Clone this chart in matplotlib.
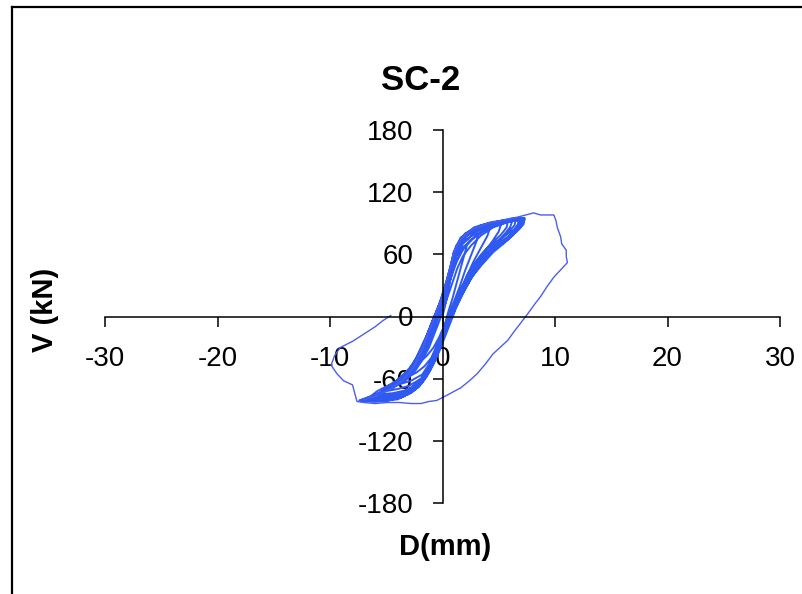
import matplotlib
matplotlib.use("Agg")
import matplotlib.pyplot as plt
from matplotlib.lines import Line2D

plt.rcParams["font.family"] = ["Liberation Sans", "DejaVu Sans"]
plt.rcParams["axes.unicode_minus"] = False

# axis ticks
x_ticks = [-30, -20, -10, 0, 10, 20, 30]
y_ticks = [-180, -120, -60, 0, 60, 120, 180]

# hysteresis record, (D mm, V kN)
cycle_1 = [(0.0, 0), (0.3, 14), (0.6, 30), (0.9, 46), (1.2, 58), (1.7, 66), (2.2, 70),
           (2.0, 62), (1.7, 50), (1.3, 34), (0.9, 18), (0.5, 4), (0.2, -8), (-0.3, -20),
           (-0.8, -30), (-1.4, -38), (-2.0, -44)]
cycle_2 = [(-1.6, -36), (-1.2, -26), (-0.8, -14), (-0.4, -2), (0.2, 14), (0.6, 32), (0.9, 50),
           (1.3, 64), (1.9, 73), (2.6, 78), (3.2, 80),
           (3.0, 72), (2.5, 58), (2.0, 44), (1.5, 28), (1.0, 14), (0.5, 0), (0.0, -14),
           (-0.5, -28), (-1.0, -40), (-1.6, -48), (-2.3, -54), (-3.0, -58)]
cycle_3 = [(-2.6, -52), (-2.0, -40), (-1.5, -28), (-1.0, -14), (-0.5, 0), (0.1, 18), (0.5, 36),
           (0.8, 52), (1.2, 66), (1.9, 76), (3.0, 83), (4.2, 85),
           (4.0, 78), (3.4, 66), (2.8, 54), (2.2, 40), (1.6, 24), (1.0, 8), (0.4, -6),
           (-0.2, -20), (-0.7, -34), (-1.2, -46), (-1.8, -56), (-2.8, -62), (-4.0, -66)]
cycle_4 = [(-3.4, -60), (-2.6, -48), (-2.0, -36), (-1.4, -22), (-0.8, -6), (-0.2, 10), (0.3, 28),
           (0.7, 46), (1.0, 62), (1.6, 74), (2.6, 83), (3.8, 87), (5.2, 89),
           (5.0, 82), (4.4, 72), (3.7, 62), (3.0, 50), (2.3, 36), (1.6, 20), (1.0, 4),
           (0.4, -10), (-0.2, -24), (-0.7, -38), (-1.2, -50), (-1.9, -60), (-3.0, -67),
           (-4.0, -70), (-5.0, -72)]
cycle_5 = [(-4.4, -66), (-3.3, -56), (-2.6, -46), (-2.0, -32), (-1.4, -18), (-0.8, -2), (-0.1, 16),
           (0.4, 34), (0.8, 50), (1.1, 64), (1.8, 77), (3.0, 86), (4.5, 90), (6.2, 92),
           (6.0, 86), (5.4, 78), (4.6, 68), (3.8, 58), (3.0, 46), (2.2, 30), (1.4, 14),
           (0.7, 0), (0.1, -16), (-0.4, -30), (-1.0, -46), (-1.6, -58), (-2.4, -68),
           (-3.5, -74), (-4.8, -76), (-6.0, -76)]
cycle_6 = [(-4.4, -69), (-3.2, -61), (-2.4, -52), (-1.8, -42), (-1.2, -30), (-0.7, -16), (-0.2, -2),
           (0.3, 14), (0.8, 30), (1.3, 46), (1.8, 58), (2.5, 68), (3.4, 78), (4.5, 86), (5.8, 91),
           (5.7, 86), (5.2, 79), (4.4, 71), (3.6, 62), (2.9, 52), (2.2, 40), (1.6, 26),
           (1.0, 12), (0.5, -2), (0.0, -16), (-0.5, -30), (-1.0, -44), (-1.5, -56),
           (-2.2, -65), (-3.2, -71), (-4.4, -74), (-5.6, -75)]
cycle_7 = [(-5.2, -70), (-3.8, -60), (-2.8, -49), (-2.1, -36), (-1.5, -22), (-0.9, -4), (-0.2, 14),
           (0.3, 32), (0.7, 48), (1.0, 62), (1.6, 76), (2.8, 86), (4.3, 91), (5.6, 93), (6.8, 94),
           (6.7, 89), (6.2, 81), (5.4, 72), (4.4, 62), (3.4, 50), (2.5, 36), (1.6, 20),
           (0.9, 4), (0.2, -14), (-0.4, -30), (-0.9, -46), (-1.5, -58), (-2.2, -68),
           (-3.2, -74), (-4.6, -78), (-6.8, -79)]
cycle_8 = [(-5.0, -72), (-3.8, -64), (-2.9, -56), (-2.2, -46), (-1.6, -34), (-1.1, -20), (-0.6, -6),
           (-0.1, 10), (0.4, 26), (0.9, 42), (1.3, 54), (1.9, 66), (2.8, 76), (3.9, 84),
           (5.2, 90), (6.5, 93),
           (6.4, 88), (5.9, 82), (5.0, 74), (4.0, 66), (3.2, 56), (2.5, 44), (1.9, 32),
           (1.3, 18), (0.7, 4), (0.2, -10), (-0.3, -24), (-0.8, -38), (-1.3, -50),
           (-1.9, -60), (-2.8, -69), (-3.9, -75), (-5.2, -78), (-6.5, -78)]
cycle_9 = [(-5.8, -72), (-4.2, -63), (-3.0, -51), (-2.2, -38), (-1.6, -24), (-1.0, -8), (-0.4, 8),
           (0.1, 24), (0.6, 40), (0.9, 56), (1.2, 68), (2.0, 80), (3.4, 88), (5.0, 92),
           (6.3, 95), (7.2, 95),
           (7.1, 90), (6.6, 82), (5.8, 74), (4.8, 66), (3.8, 56), (2.8, 44), (1.8, 26),
           (1.1, 10), (0.5, -4), (0.0, -18), (-0.5, -34), (-1.1, -50), (-1.8, -64),
           (-2.7, -73), (-4.0, -80), (-5.6, -81), (-7.4, -81)]
cycle_10 = [(-5.6, -74), (-4.3, -67), (-3.3, -59), (-2.5, -50), (-1.9, -39), (-1.3, -26),
            (-0.8, -12), (-0.3, 4), (0.2, 20), (0.7, 36), (1.1, 50), (1.6, 62), (2.4, 73),
            (3.5, 82), (4.8, 88), (6.0, 92), (7.0, 94),
            (6.9, 90), (6.5, 85), (5.7, 79), (4.8, 71), (3.9, 62), (3.2, 52), (2.6, 40),
            (2.0, 28), (1.4, 14), (0.9, 2), (0.4, -12), (-0.1, -26), (-0.6, -40), (-1.1, -52),
            (-1.7, -62), (-2.5, -71), (-3.6, -77), (-5.2, -80), (-7.0, -80)]
cycle_11 = [(-6.0, -76), (-4.8, -68), (-3.6, -58), (-2.6, -46), (-1.9, -32), (-1.3, -16),
            (-0.7, 0), (-0.1, 18), (0.4, 36), (0.8, 52), (1.1, 64), (1.8, 76), (3.0, 85),
            (4.6, 90), (6.0, 92), (7.0, 93),
            (6.9, 88), (6.3, 79), (5.5, 71), (4.5, 62), (3.5, 50), (2.6, 38), (1.7, 22),
            (1.0, 6), (0.3, -10), (-0.2, -26), (-0.8, -42), (-1.4, -56), (-2.2, -68),
            (-3.4, -77), (-5.0, -82), (-7.2, -82)]
cycle_12 = [(-6.2, -77), (-5.0, -71), (-3.9, -64), (-3.0, -56), (-2.3, -46), (-1.8, -35),
            (-1.2, -20), (-0.6, -4), (-0.1, 12), (0.4, 28), (0.8, 44), (1.2, 58), (1.8, 70),
            (2.8, 80), (4.2, 88), (5.8, 93), (7.3, 95),
            (7.2, 91), (6.9, 86), (6.2, 80), (5.3, 73), (4.4, 65), (3.6, 56), (3.0, 46),
            (2.4, 34), (1.8, 22), (1.2, 8), (0.7, -6), (0.2, -20), (-0.3, -34), (-0.8, -46),
            (-1.4, -58), (-2.1, -68), (-3.0, -75), (-4.4, -80), (-6.0, -82), (-7.3, -81)]
cycle_13 = [(-6.4, -78), (-5.4, -73), (-4.0, -64), (-3.0, -54), (-2.3, -42), (-1.7, -28),
            (-1.1, -12), (-0.5, 4), (0.0, 20), (0.5, 38), (0.9, 54), (1.4, 68), (2.3, 80),
            (3.8, 88), (5.4, 92), (6.6, 94), (7.3, 94),
            (7.2, 89), (6.8, 84), (6.0, 77), (5.0, 68), (4.0, 58), (3.0, 46), (2.0, 30),
            (1.3, 16), (0.7, 0), (0.1, -14), (-0.4, -28), (-1.0, -44), (-1.6, -58),
            (-2.4, -70), (-3.6, -78), (-5.4, -81), (-7.0, -80)]
outer_cycle = [(-6.0, -77), (-4.6, -70), (-3.4, -60), (-2.5, -48), (-1.9, -34), (-1.4, -20),
               (-0.8, -4), (-0.2, 14), (0.3, 32), (0.7, 48), (1.0, 62), (1.6, 74), (2.6, 84),
               (4.0, 90), (5.4, 93), (6.7, 96), (7.4, 98), (8.1, 100), (8.7, 98), (9.3, 98),
               (9.9, 98), (10.1, 92), (10.2, 86), (10.5, 77), (10.6, 70), (11.0, 64),
               (11.0, 58), (11.1, 52), (10.5, 45), (9.9, 38), (9.3, 29), (8.7, 19), (8.2, 12),
               (7.6, 3), (6.9, -7), (6.4, -14), (5.8, -23), (5.1, -30), (4.5, -36), (3.8, -46),
               (3.1, -55), (2.4, -62), (1.6, -69), (0.9, -73), (0.4, -76), (-0.5, -81),
               (-1.2, -82), (-1.9, -84), (-2.8, -84), (-3.8, -83), (-4.9, -83), (-6.0, -84),
               (-7.0, -83), (-7.6, -82), (-8.0, -66), (-8.8, -62), (-9.4, -55), (-9.9, -47),
               (-9.6, -38), (-9.1, -30), (-8.0, -24), (-7.0, -17), (-6.0, -10), (-5.3, -4),
               (-4.6, 1)]

cycles = [cycle_1, cycle_2, cycle_3, cycle_4, cycle_5, cycle_6, cycle_7, cycle_8, cycle_9,
          cycle_10, cycle_11, cycle_12, cycle_13]
bundle_d = [p[0] for c in cycles for p in c]
bundle_v = [p[1] for c in cycles for p in c]
outer_d = [bundle_d[-1]] + [p[0] for p in outer_cycle]
outer_v = [bundle_v[-1]] + [p[1] for p in outer_cycle]

W, H = 802, 594
fig = plt.figure(figsize=(W / 100, H / 100), dpi=100)
ax = fig.add_axes([105 / W, 91 / H, 675 / W, 373 / H])
ax.patch.set_visible(False)

ax.plot(bundle_d, bundle_v, color="#2f5af2", linewidth=1.4)
ax.plot(outer_d, outer_v, color="#4a5ff0", linewidth=1.0)

ax.set_xlim(-30, 30)
ax.set_ylim(-180, 180)
ax.set_xticks(x_ticks)
ax.set_yticks(y_ticks)

ax.spines["left"].set_position(("data", 0))
ax.spines["bottom"].set_position(("data", 0))
ax.spines["top"].set_visible(False)
ax.spines["right"].set_visible(False)
for s in ("left", "bottom"):
    ax.spines[s].set_linewidth(1.1)

ax.tick_params(axis="both", direction="out", length=7, width=1.1, labelsize=20, pad=14)

fig.text(421 / W, 1 - 80 / H, "SC-2", ha="center", va="center", fontsize=25, fontweight="bold")
fig.text(445 / W, 1 - 547 / H, "D(mm)", ha="center", va="center", fontsize=21, fontweight="bold")
fig.text(45 / W, 1 - 310 / H, "V (kN)", ha="center", va="center", fontsize=21,
         fontweight="bold", rotation=90)

# outer chart frame (top and left edges visible)
fig.add_artist(Line2D([12 / W, 1], [1 - 7 / H, 1 - 7 / H], color="black", linewidth=1.6))
fig.add_artist(Line2D([12 / W, 12 / W], [0, 1 - 7 / H], color="black", linewidth=1.6))

fig.savefig("out.png", dpi=100)
